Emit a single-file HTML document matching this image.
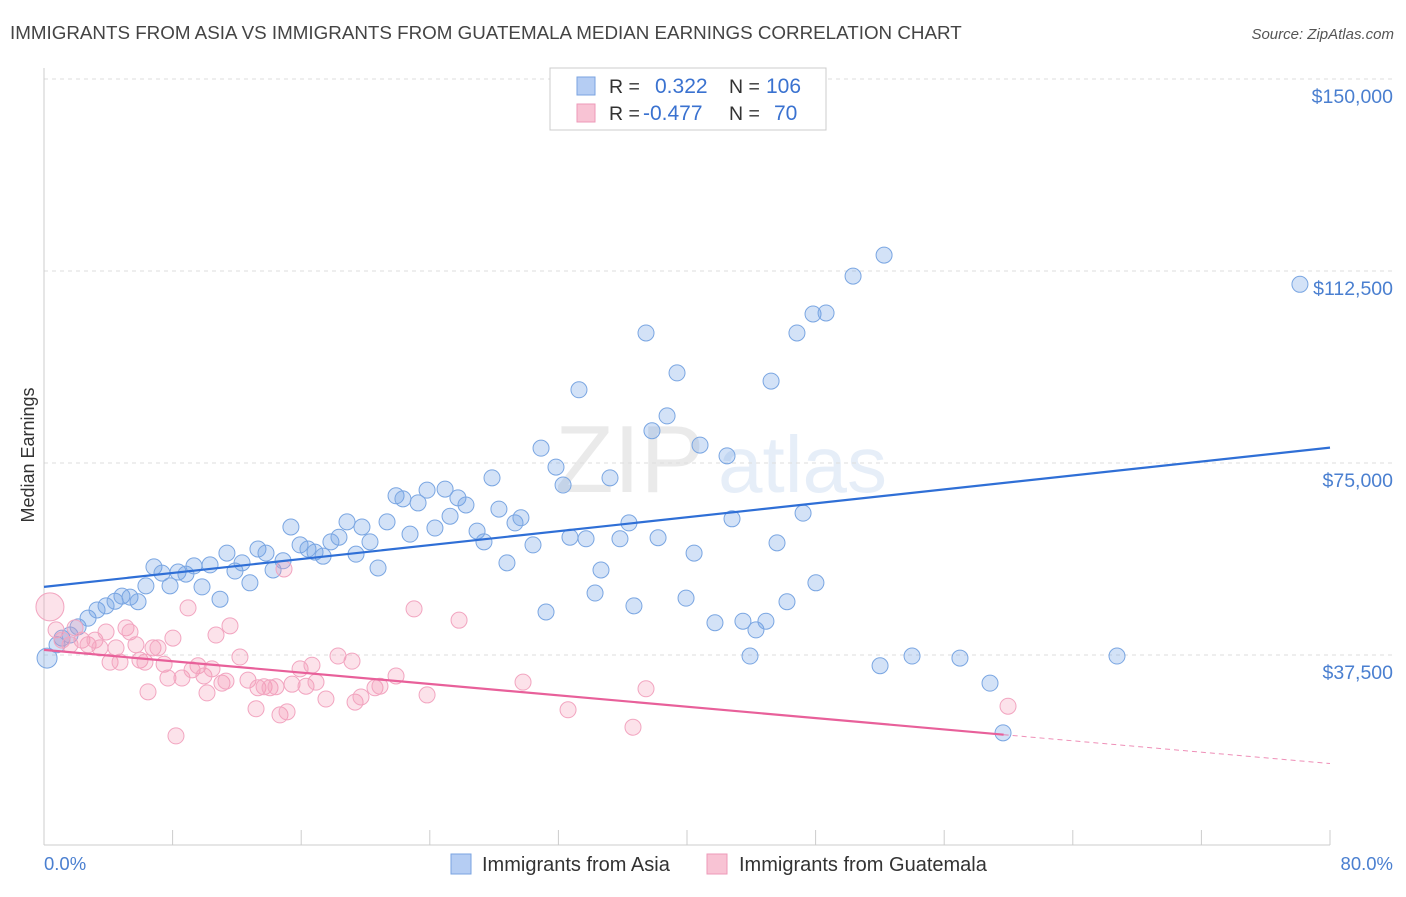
<!DOCTYPE html>
<html><head><meta charset="utf-8">
<style>
body{margin:0;background:#fff;font-family:"Liberation Sans",sans-serif;}
svg text{font-family:"Liberation Sans",sans-serif;}
</style></head>
<body>
<svg id="chart" width="1406" height="892" xmlns="http://www.w3.org/2000/svg">
<text x="10" y="39" font-size="18.8" fill="#444">IMMIGRANTS FROM ASIA VS IMMIGRANTS FROM GUATEMALA MEDIAN EARNINGS CORRELATION CHART</text>
<text x="1394" y="39" font-size="15" fill="#555" font-style="italic" text-anchor="end">Source: ZipAtlas.com</text>
<g opacity="0.13">
<text x="555" y="492" font-size="96" font-family="Liberation Serif,serif" fill="#666">ZIP</text>
<text x="718" y="492" font-size="80" fill="#4a7fd0">atlas</text>
</g>
<g id="grid"></g>
<g id="axes"></g>
<g id="pts"></g>
<g id="trends"></g>
<text transform="translate(34,455) rotate(-90)" font-size="18" fill="#333" text-anchor="middle">Median Earnings</text>
<text x="44" y="870" font-size="18.5" fill="#4a7fd0">0.0%</text>
<text x="1393" y="870" font-size="18.5" fill="#4a7fd0" text-anchor="end">80.0%</text>
<g>
<rect x="550" y="68" width="276" height="62" fill="#fff" stroke="#ccc"/>
<rect x="577" y="77" width="18" height="18" fill="#b5cdf3" stroke="#7aa3e0"/>
<rect x="577" y="104" width="18" height="18" fill="#f8c3d4" stroke="#ee9ab8"/>
<text x="609" y="93" font-size="19.5" fill="#333">R =</text>
<text x="655" y="93" font-size="21" fill="#3a72d0">0.322</text>
<text x="729" y="93" font-size="19.5" fill="#333">N =</text>
<text x="766" y="93" font-size="21" fill="#3a72d0">106</text>
<text x="609" y="120" font-size="19.5" fill="#333">R =</text>
<text x="643" y="120" font-size="21" fill="#3a72d0">-0.477</text>
<text x="729" y="120" font-size="19.5" fill="#333">N =</text>
<text x="774" y="120" font-size="21" fill="#3a72d0">70</text>
</g>
<g>
<rect x="451" y="854" width="20" height="20" fill="#b5cdf3" stroke="#7aa3e0"/>
<text x="482" y="871" font-size="20" fill="#333">Immigrants from Asia</text>
<rect x="707" y="854" width="20" height="20" fill="#f8c3d4" stroke="#ee9ab8"/>
<text x="739" y="871" font-size="20" fill="#333">Immigrants from Guatemala</text>
</g>
</svg>
<script>
const yTicks=[37500,75000,112500,150000];
const yTickLabels=["$37,500","$75,000","$112,500","$150,000"];
const xTicks=[0,8,16,24,32,40,48,56,64,72,80];
const asiaX=[0.19,0.81,1.12,1.62,2.12,2.74,3.30,3.86,4.42,4.85,5.35,5.85,6.34,6.84,7.34,7.84,8.34,8.83,9.33,9.83,10.33,10.95,11.38,11.88,12.32,12.81,13.31,13.81,14.25,14.87,15.36,15.93,16.42,16.86,17.36,17.85,18.35,18.85,19.41,19.78,20.28,20.78,21.34,21.90,22.33,22.77,23.27,23.83,24.32,24.95,25.26,25.75,26.25,26.94,27.37,27.87,28.30,28.80,29.30,29.67,30.42,30.92,31.23,31.85,32.29,32.72,33.28,33.72,34.28,34.65,35.21,35.83,36.39,36.70,37.45,37.82,38.20,38.76,39.38,39.94,40.44,40.81,41.74,42.49,42.80,43.48,43.92,44.29,44.91,45.23,45.60,46.22,46.84,47.22,47.84,48.02,48.65,50.33,52.01,52.26,54.00,56.98,58.85,59.66,66.75,78.13];
const asiaY=[36.9,39.5,40.8,41.4,43.0,44.7,46.3,47.1,48.0,49.0,48.8,47.9,51.0,54.7,53.5,51.0,53.7,53.3,54.9,50.8,55.1,48.4,57.4,53.9,55.5,51.6,58.2,57.4,54.1,55.9,62.5,59.0,58.2,57.6,56.8,59.6,60.5,63.5,57.2,62.5,59.6,54.5,63.5,68.6,68.0,61.1,67.2,69.7,62.3,69.9,64.6,68.2,66.8,61.7,59.6,72.1,66.0,55.5,63.3,64.3,59.0,77.9,45.9,74.2,70.7,60.5,89.3,60.2,49.6,54.1,72.1,60.2,63.3,47.1,100.4,81.3,60.4,84.2,92.6,48.6,57.4,78.5,43.8,76.4,64.1,44.1,37.3,42.4,44.1,91.0,59.4,47.9,100.4,65.2,104.1,51.6,104.3,111.5,35.4,115.6,37.3,36.9,32.0,22.3,37.3,109.9];
const guatX=[0.37,0.75,1.12,1.62,1.93,2.36,2.74,3.17,3.48,3.86,4.11,4.48,4.73,5.10,5.35,5.72,5.97,6.28,6.47,6.78,7.09,7.47,7.71,8.02,8.21,8.58,8.96,9.21,9.58,9.95,10.14,10.45,10.70,11.07,11.32,11.57,12.19,12.69,13.19,13.31,13.69,14.06,14.43,14.68,14.93,15.12,15.43,15.93,16.30,16.67,16.92,17.54,18.29,19.16,19.35,19.72,20.59,20.90,21.90,23.02,23.83,25.82,29.80,32.60,36.64,37.45,59.97];
const guatY=[46.9,42.4,40.4,39.5,42.8,40.4,39.5,40.4,38.9,42.0,36.1,38.9,36.1,42.8,42.0,39.5,36.5,36.1,30.3,38.9,38.9,35.7,33.0,40.8,21.7,33.0,46.7,34.6,35.4,33.4,30.1,34.8,41.4,32.0,32.4,43.2,37.1,32.6,27.0,31.1,31.3,31.1,31.3,25.8,54.3,26.4,31.8,34.8,31.4,35.5,32.2,28.9,37.3,36.3,28.3,29.3,31.1,31.4,33.4,46.5,29.7,44.3,32.2,26.8,23.4,30.9,27.5];
const asiaTrend=[50.8,78.0];
const guatTrend=[38.5,16.3];
const guatSolidEnd=59.7;

const NS="http://www.w3.org/2000/svg";
const X0=44,X1=1330;
function sx(p){return X0+(p/80)*(X1-X0);}
function sy(v){return 655-(v-37500)/37500*192;}
function mk(tag,attrs,parent){const e=document.createElementNS(NS,tag);for(const k in attrs)e.setAttribute(k,attrs[k]);parent.appendChild(e);return e;}
const grid=document.getElementById('grid'),axes=document.getElementById('axes'),pts=document.getElementById('pts'),tr=document.getElementById('trends');
yTicks.forEach((v,i)=>{
 const l=mk('line',{x1:X0,x2:1393,y1:sy(v),y2:sy(v),stroke:'#ddd','stroke-dasharray':'4,4'},grid);
 
 
 const t=mk('text',{x:1393,y:sy(v)+24,'font-size':19.5,fill:'#4a7fd0','text-anchor':'end'},grid);
 t.textContent=yTickLabels[i];
 
 
});
const ax=mk('line',{x1:X0,x2:X0,y1:68,y2:845,stroke:'#ccc'},axes);


const bx=mk('line',{x1:X0,x2:X1,y1:845,y2:845,stroke:'#ccc'},axes);


xTicks.forEach(p=>{
 const t=mk('line',{x1:sx(p),x2:sx(p),y1:830,y2:845,stroke:'#ccc'},axes);
 
 
});
asiaX.forEach((x,i)=>{
 const c=mk('circle',{cx:sx(x),cy:sy(asiaY[i]*1000),r:(i===0?10:8),fill:'rgba(110,160,230,0.3)',stroke:'#7aa6e2','stroke-width':1},pts);
 
 
});
guatX.forEach((x,i)=>{
 const c=mk('circle',{cx:sx(x),cy:sy(guatY[i]*1000),r:(i===0?14:8),fill:'rgba(245,150,180,0.28)',stroke:'#f2a5c0','stroke-width':1},pts);
 
 
});
const la=mk('line',{x1:sx(0),y1:sy(asiaTrend[0]*1000),x2:sx(80),y2:sy(asiaTrend[1]*1000),stroke:'#2f6fd6','stroke-width':2.2},tr);


const gAt=p=>guatTrend[0]+(guatTrend[1]-guatTrend[0])*p/80;
const lg=mk('line',{x1:sx(0),y1:sy(gAt(0)*1000),x2:sx(guatSolidEnd),y2:sy(gAt(guatSolidEnd)*1000),stroke:'#e8609a','stroke-width':2.2},tr);


const lgd=mk('line',{x1:sx(guatSolidEnd),y1:sy(gAt(guatSolidEnd)*1000),x2:sx(80),y2:sy(gAt(80)*1000),stroke:'#e8609a','stroke-width':1,'stroke-dasharray':'5,4',opacity:0.7},tr);


</script>
</body></html>
